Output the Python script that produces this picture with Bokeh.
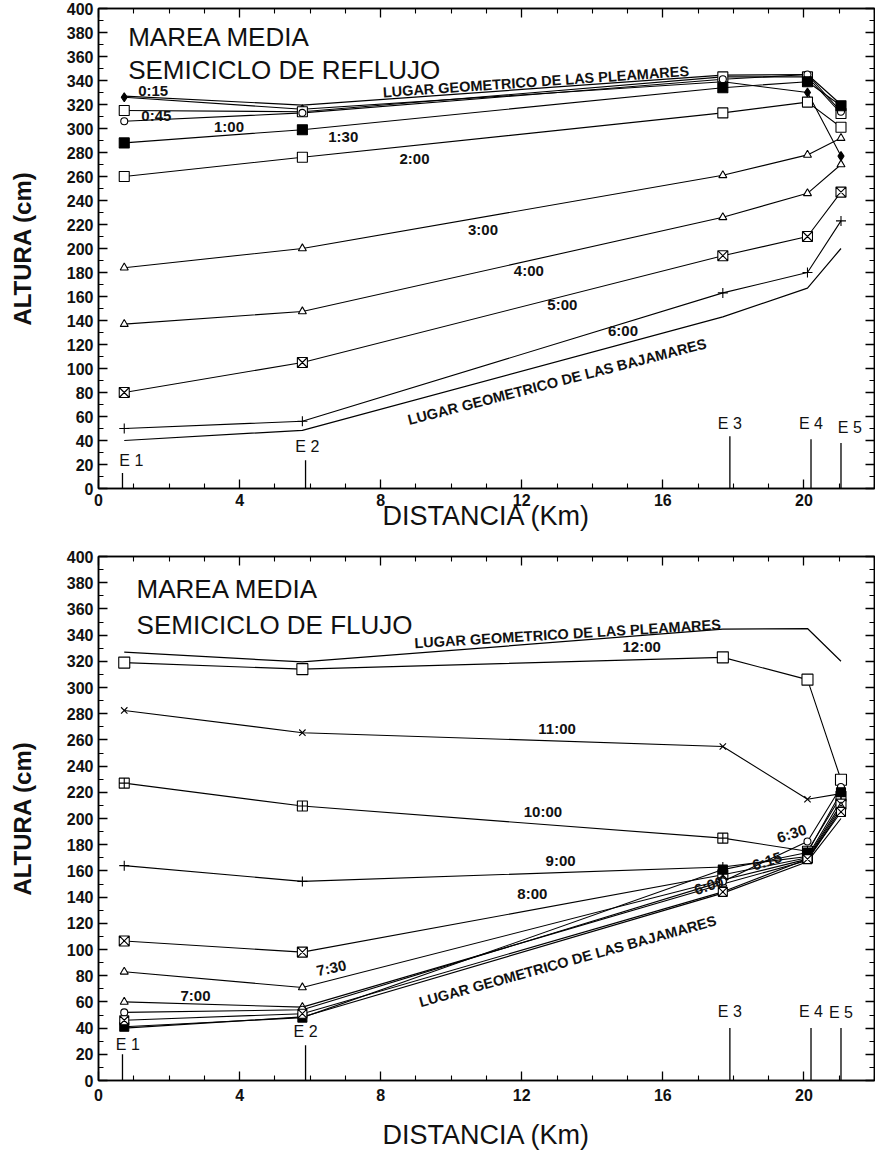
from bokeh.plotting import figure
from bokeh.models import LinearAxis, FixedTicker, Range1d, Label, CustomJSTickFormatter
from bokeh.layouts import column
from bokeh.embed import file_html
from bokeh.resources import INLINE

FONT = "Liberation Sans"

# ---------------- data ----------------
# distance (km) of the measuring points E1..E5
km_points = [0.73, 5.78, 17.7, 20.1, 21.05]
station_names = ["E 1", "E 2", "E 3", "E 4", "E 5"]
station_km = [0.68, 5.87, 17.9, 20.2, 21.05]
station_top_reflujo = [13, 23.5, 43.5, 41, 38]
station_top_flujo = [20, 27, 40, 40, 40]

pleamares = [327, 319.5, 344.5, 345, 320]
bajamares = [40, 48.5, 143, 167, 200]

# semiciclo de reflujo
reflujo_names = ["0:15", "0:45", "1:00", "1:30", "2:00", "3:00", "4:00", "5:00", "6:00"]
r_0015 = [326, 316, 339, 330, 277]
r_0045 = [315, 314, 343, 343, 312.5]
r_0100 = [306, 313, 341, 345, 314]
r_0130 = [288, 299, 334, 339, 319]
r_0200 = [260, 276, 313, 322, 301]
r_0300 = [184, 200, 261, 278, 292]
r_0400 = [137, 147.5, 226, 246, 270]
r_0500 = [80, 105, 194, 210, 247]
r_0600 = [50, 56, 163, 180, 223]

# semiciclo de flujo
flujo_names = ["12:00", "11:00", "10:00", "9:00", "8:00", "7:30", "7:00", "6:30", "6:15", "6:00"]
f_1200 = [319, 314, 323, 306, 229.6]
f_1100 = [282.5, 265.5, 255, 214.7, 219]
f_1000 = [227, 209.5, 185, 175, 217]
f_0900 = [164, 152, 163, 171, 214]
f_0800 = [106.5, 98, 157, 170, 211]
f_0730 = [83, 71, 153, 169, 209]
f_0700 = [60, 56, 150, 168, 207]
f_0630 = [52, 54, 152, 182.5, 224]
f_0615 = [41, 48, 161, 174, 220]
f_0600 = [46, 51, 144, 169, 205]

x_major = [0, 4, 8, 12, 16, 20]
x_minor = [k for k in range(0, 23) if k % 4]
y_major = list(range(0, 401, 20))
y_minor = list(range(10, 400, 20))

# ---------------- styles / label placement ----------------
reflujo_series = [r_0015, r_0045, r_0100, r_0130, r_0200, r_0300, r_0400, r_0500, r_0600]
reflujo_marker = ["diamond", "square", "circle", "square", "square", "triangle", "triangle", "square_x", "cross"]
reflujo_fill = ["black", "white", "white", "black", "white", "white", "white", "white", "white"]
reflujo_size = [9, 10, 7, 10, 10, 8, 8, 10, 10]
reflujo_lab_km = [1.55, 1.64, 3.7, 6.94, 8.96, 10.9, 12.2, 13.15, 14.87]
reflujo_lab_cm = [332, 311, 301.5, 293, 275, 216, 182, 153, 132]

flujo_series = [f_1200, f_1100, f_1000, f_0900, f_0800, f_0730, f_0700, f_0630, f_0615, f_0600]
flujo_marker = ["square", "x", "square_cross", "cross", "square_x", "triangle", "triangle", "circle", "square", "square_x"]
flujo_fill = ["white", "white", "white", "white", "white", "white", "white", "white", "black", "white"]
flujo_size = [11, 9, 10, 10, 10, 8, 8, 7, 9, 9]
flujo_lab_km = [15.4, 13.0, 12.6, 13.1, 12.3, 6.6, 2.75, 19.65, 18.95, 17.3]
flujo_lab_cm = [331, 269, 205, 168, 143, 86, 64.6, 188.7, 167.6, 149]
flujo_lab_ang = [0, 0, 0, 0, 0, 12, 0, 18, 18, 18]


def style_axis(ax, labels=True):
    ax.axis_line_color = "black"
    ax.axis_line_width = 1.5
    ax.major_tick_in = 9
    ax.major_tick_out = 0
    ax.minor_tick_in = 5
    ax.minor_tick_out = 0
    ax.major_tick_line_color = "black"
    ax.major_tick_line_width = 1.3
    ax.minor_tick_line_color = "black"
    ax.minor_tick_line_width = 1.1
    if labels:
        ax.major_label_text_font = FONT
        ax.major_label_text_font_size = "16px"
        ax.major_label_text_font_style = "bold"
        ax.major_label_text_color = "#111111"
    else:
        ax.formatter = CustomJSTickFormatter(code="return ''")
        ax.major_label_text_font_size = "1px"
        ax.major_label_standoff = 0


def make_fig(height, b_left, b_top, b_bottom, tick_standoff, xlab_standoff):
    p = figure(width=875, height=height, x_range=Range1d(0, 22), y_range=Range1d(0, 400),
               output_backend="svg", toolbar_location=None,
               min_border_left=b_left, min_border_right=1,
               min_border_top=b_top, min_border_bottom=b_bottom)
    p.xgrid.visible = False
    p.ygrid.visible = False
    p.outline_line_color = "black"
    p.outline_line_width = 1.5
    p.background_fill_color = "white"
    p.border_fill_color = "white"

    xa = p.xaxis[0]
    xa.ticker = FixedTicker(ticks=x_major, minor_ticks=x_minor)
    style_axis(xa)
    xa.major_label_standoff = tick_standoff
    xa.axis_label = "DISTANCIA (Km)"
    xa.axis_label_text_font = FONT
    xa.axis_label_text_font_size = "27px"
    xa.axis_label_text_font_style = "normal"
    xa.axis_label_text_color = "#111111"
    xa.axis_label_standoff = xlab_standoff

    ya = p.yaxis[0]
    ya.ticker = FixedTicker(ticks=y_major, minor_ticks=y_minor)
    style_axis(ya)
    ya.axis_label = "ALTURA (cm)"
    ya.axis_label_text_font = FONT
    ya.axis_label_text_font_size = "24px"
    ya.axis_label_text_font_style = "bold"
    ya.axis_label_text_color = "#111111"
    ya.axis_label_standoff = 28

    top = LinearAxis(ticker=FixedTicker(ticks=x_major, minor_ticks=x_minor))
    style_axis(top, labels=False)
    p.add_layout(top, "above")
    right = LinearAxis(ticker=FixedTicker(ticks=y_major, minor_ticks=y_minor))
    style_axis(right, labels=False)
    p.add_layout(right, "right")
    return p


def add_text(p, x, y, text, size="15px", angle=0, style="normal", align="center", baseline="middle"):
    p.add_layout(Label(x=x, y=y, text=text, text_font=FONT, text_font_size=size,
                       text_font_style=style, text_align=align, text_baseline=baseline,
                       angle=angle, angle_units="deg", text_color="#111111"))


def draw_common(p, station_tops, lab_cm, lab_dx):
    p.segment(x0=station_km, y0=[0] * 5, x1=station_km, y1=station_tops,
              line_color="black", line_width=1.3)
    for i, name in enumerate(station_names):
        add_text(p, station_km[i] + lab_dx[i], lab_cm[i], name, size="16px")
    p.line(km_points, pleamares, line_color="black", line_width=1.2)
    p.line(km_points, bajamares, line_color="black", line_width=1.2)


def draw_series(p, series, markers, fills, sizes):
    for vals in series:
        p.line(km_points, vals, line_color="black", line_width=1.1)
    for vals, m, f, s in zip(series, markers, fills, sizes):
        p.scatter(km_points, vals, marker=m, size=s, fill_color=f, line_color="black", line_width=1.1)


# ---------------- top chart: reflujo ----------------
p1 = make_fig(546, 95, 8, 58, 5, -8)
draw_common(p1, station_top_reflujo, [23.5, 35, 54.5, 54, 51], [0.25, 0.05, 0, 0, 0.25])
draw_series(p1, reflujo_series, reflujo_marker, reflujo_fill, reflujo_size)
for name, kx, cy in zip(reflujo_names, reflujo_lab_km, reflujo_lab_cm):
    add_text(p1, kx, cy, name, size="15px", style="bold")
add_text(p1, 0.84, 376, "MAREA MEDIA", size="26px", align="left", baseline="alphabetic")
add_text(p1, 0.84, 349, "SEMICICLO DE REFLUJO", size="26px", align="left", baseline="alphabetic")
add_text(p1, 12.4, 339, "LUGAR GEOMETRICO DE LAS PLEAMARES", size="14.5px", angle=4, style="bold")
add_text(p1, 13.0, 89, "LUGAR GEOMETRICO DE LAS BAJAMARES", size="14.5px", angle=14.5, style="bold")

# ---------------- bottom chart: flujo ----------------
p2 = make_fig(607, 98, 10, 73, 8, 16)
draw_common(p2, station_top_flujo, [27.6, 37.7, 52.8, 52.8, 51.6], [0.15, 0, 0, 0, 0])
draw_series(p2, flujo_series, flujo_marker, flujo_fill, flujo_size)
for name, kx, cy, ang in zip(flujo_names, flujo_lab_km, flujo_lab_cm, flujo_lab_ang):
    add_text(p2, kx, cy, name, size="15px", angle=ang, style="bold")
add_text(p2, 1.08, 375, "MAREA MEDIA", size="26px", align="left", baseline="alphabetic")
add_text(p2, 1.08, 348, "SEMICICLO DE FLUJO", size="26px", align="left", baseline="alphabetic")
add_text(p2, 13.3, 341, "LUGAR GEOMETRICO DE LAS PLEAMARES", size="14.5px", angle=3.5, style="bold")
add_text(p2, 13.3, 91, "LUGAR GEOMETRICO DE LAS BAJAMARES", size="14.5px", angle=15.5, style="bold")

layout = column(p1, p2)
open("out.html", "w").write(file_html(layout, INLINE))
